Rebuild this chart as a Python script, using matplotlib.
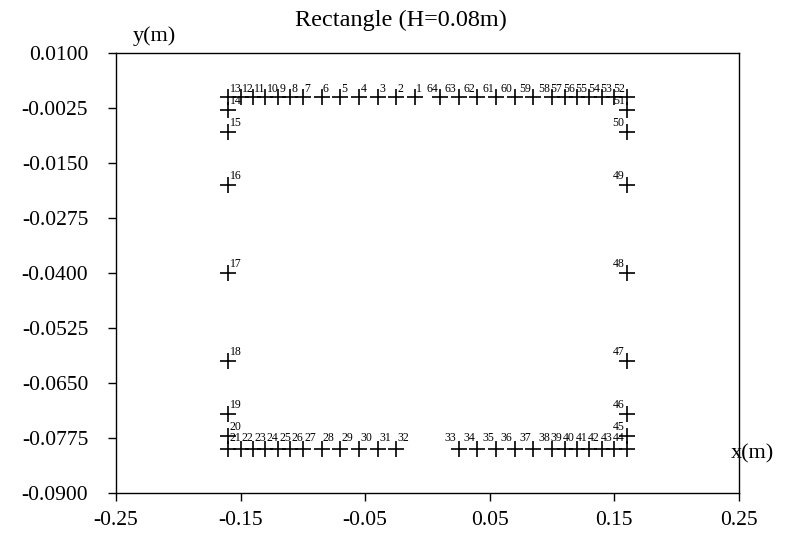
import numpy as np
import matplotlib.pyplot as plt
from matplotlib.ticker import FormatStrFormatter

plt.rcParams['font.family'] = ['Liberation Serif', 'DejaVu Serif']

# 測點座標 (m)
top_left_x = [-0.01, -0.025, -0.04, -0.055, -0.07, -0.085, -0.10, -0.11, -0.12, -0.13, -0.14, -0.15, -0.16]   # 1-13
left_y = [-0.003, -0.008, -0.02, -0.04, -0.06, -0.072, -0.077]                                                 # 14-20
bottom_left_x = [-0.16, -0.15, -0.14, -0.13, -0.12, -0.11, -0.10, -0.085, -0.07, -0.055, -0.04, -0.025]        # 21-32
bottom_right_x = [0.025, 0.04, 0.055, 0.07, 0.085, 0.10, 0.11, 0.12, 0.13, 0.14, 0.15, 0.16]                   # 33-44
right_y = [-0.077, -0.072, -0.06, -0.04, -0.02, -0.008, -0.003]                                                # 45-51
top_right_x = [0.16, 0.15, 0.14, 0.13, 0.12, 0.11, 0.10, 0.085, 0.07, 0.055, 0.04, 0.025, 0.01]                # 52-64

y_top = 0.0
y_bottom = -0.08
x_left = -0.16
x_right = 0.16

xs = (top_left_x + [x_left] * len(left_y) + bottom_left_x + bottom_right_x
      + [x_right] * len(right_y) + top_right_x)
ys = ([y_top] * len(top_left_x) + left_y + [y_bottom] * len(bottom_left_x)
      + [y_bottom] * len(bottom_right_x) + right_y + [y_top] * len(top_right_x))
labels = [str(i + 1) for i in range(len(xs))]

fig = plt.figure(figsize=(8.07, 5.39), dpi=100)
ax = fig.add_axes([0.1437, 0.0853, 0.772, 0.8164])

ax.plot(xs, ys, '+', color='black', markersize=11, markeredgewidth=1.2, linestyle='none')

for x, y, lab in zip(xs, ys, labels):
    if y == y_bottom:
        dy = 5.5
    elif y == y_top:
        dy = 3.5
    else:
        dy = 4.5
    if x < 0:
        ax.annotate(lab, (x, y), xytext=(1, dy), textcoords='offset points',
                    ha='left', va='baseline', fontsize=8.5)
    else:
        ax.annotate(lab, (x, y), xytext=(-1.5, dy), textcoords='offset points',
                    ha='right', va='baseline', fontsize=8.5)

ax.set_xlim(-0.25, 0.25)
ax.set_ylim(-0.09, 0.01)
ax.set_xticks(np.arange(-0.25, 0.2501, 0.1))
ax.set_yticks(np.arange(-0.09, 0.01001, 0.0125))
ax.xaxis.set_major_formatter(FormatStrFormatter('%.2f'))
ax.yaxis.set_major_formatter(FormatStrFormatter('%.4f'))
ax.tick_params(direction='out', length=6, width=1, labelsize=15.5)
ax.tick_params(axis='y', pad=14)
ax.tick_params(axis='x', pad=7)
for s in ax.spines.values():
    s.set_linewidth(1)

fig.text(0.497, 0.963, 'Rectangle (H=0.08m)', fontsize=17.5, ha='center', va='center')
fig.text(0.165, 0.915, 'y(m)', fontsize=16, ha='left', va='bottom')
fig.text(0.905, 0.14, 'x(m)', fontsize=16, ha='left', va='bottom')

plt.savefig('out.png', dpi=100, facecolor='white')
plt.close()
